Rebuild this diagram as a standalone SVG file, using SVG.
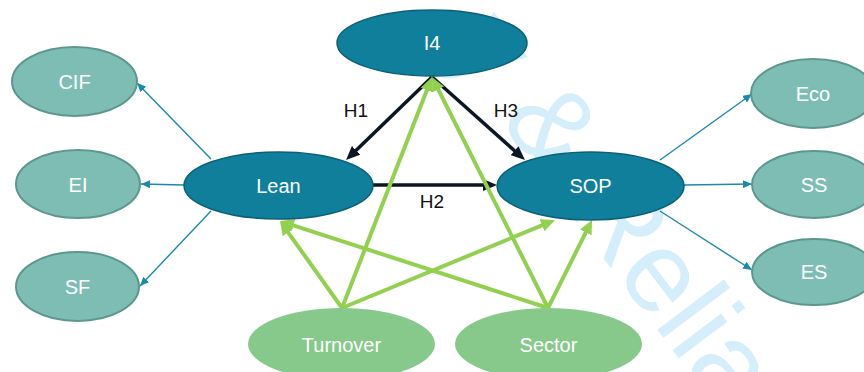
<svg xmlns="http://www.w3.org/2000/svg" width="864" height="372" viewBox="0 0 864 372">
<style>
.wm{font-family:"Liberation Sans",Arial,sans-serif;font-size:115px;fill:#d4eefb}
.t{font-family:"Liberation Sans",Arial,sans-serif;font-size:20px;fill:#ffffff;text-anchor:middle}
.h{font-family:"Liberation Sans",Arial,sans-serif;font-size:19px;fill:#111111;text-anchor:middle}
.dark{fill:#0f7f9c;stroke:#0b5f76;stroke-width:1.5}
.lt{fill:#7ebdb4;stroke:#5b978e;stroke-width:2}
.gr{fill:#86c98b;stroke:none}
.blk{stroke:#0c1624;stroke-width:3.5;fill:none;marker-end:url(#mb)}
.grn{stroke:#92d050;stroke-width:4;fill:none;marker-end:url(#mg)}
.thin{stroke:#1a8aab;stroke-width:1.4;fill:none;marker-end:url(#mt)}
</style>
<defs>
<marker id="mb" markerUnits="userSpaceOnUse" markerWidth="14" markerHeight="12" refX="6" refY="6" orient="auto"><path d="M0,0 L14,6 L0,12 z" fill="#0c1624"/></marker>
<marker id="mg" markerUnits="userSpaceOnUse" markerWidth="14" markerHeight="13" refX="5" refY="6.5" orient="auto"><path d="M0,0 L14,6.5 L0,13 z" fill="#92d050"/></marker>
<marker id="mt" markerUnits="userSpaceOnUse" markerWidth="9" markerHeight="8" refX="9" refY="4" orient="auto"><path d="M0,0 L9,4 L0,8 z" fill="#1a8aab"/></marker>
</defs>
<rect width="864" height="372" fill="#ffffff"/>
<text class="wm" transform="translate(445,48) rotate(53)">y &amp; Relia</text>
<g id="connectors">
<line class="blk" x1="432" y1="77" x2="351.8" y2="154.4"/>
<line class="blk" x1="432" y1="77" x2="519" y2="154.7"/>
<line class="blk" x1="373" y1="185" x2="489" y2="185"/>
<line class="grn" x1="342" y1="308" x2="285.2" y2="228.3"/>
<line class="grn" x1="342" y1="308" x2="428.7" y2="85.4"/>
<line class="grn" x1="342" y1="308" x2="546.7" y2="223.4"/>
<line class="grn" x1="548" y1="308" x2="288.6" y2="223.8"/>
<line class="grn" x1="548" y1="308" x2="436" y2="85"/>
<line class="grn" x1="548" y1="308" x2="588" y2="228"/>
<line class="thin" x1="211" y1="159" x2="137" y2="83"/>
<line class="thin" x1="184" y1="185" x2="141" y2="184"/>
<line class="thin" x1="211" y1="211" x2="140" y2="286"/>
<line class="thin" x1="660" y1="160" x2="752" y2="94"/>
<line class="thin" x1="684" y1="185" x2="752" y2="184"/>
<line class="thin" x1="660" y1="211" x2="752" y2="270"/>
</g>
<g id="labels">
<text class="h" x="356" y="117">H1</text>
<text class="h" x="506" y="117">H3</text>
<text class="h" x="432" y="208">H2</text>
</g>
<g id="I4"><ellipse class="dark" cx="432" cy="43" rx="95" ry="33"/><text class="t" x="432" y="50">I4</text></g>
<g id="Lean"><ellipse class="dark" cx="278.5" cy="185.5" rx="94.5" ry="33.5"/><text class="t" x="278.5" y="193">Lean</text></g>
<g id="SOP"><ellipse class="dark" cx="590.5" cy="186" rx="93.5" ry="34"/><text class="t" x="590.5" y="193">SOP</text></g>
<g id="CIF"><ellipse class="lt" cx="74.5" cy="81.5" rx="62.5" ry="34.5"/><text class="t" x="74.5" y="89">CIF</text></g>
<g id="EI"><ellipse class="lt" cx="78" cy="184" rx="62" ry="34"/><text class="t" x="78" y="192">EI</text></g>
<g id="SF"><ellipse class="lt" cx="77.5" cy="286.5" rx="61.5" ry="34.5"/><text class="t" x="77.5" y="294">SF</text></g>
<g id="Eco"><ellipse class="lt" cx="813" cy="93.5" rx="62" ry="34.5"/><text class="t" x="813" y="101">Eco</text></g>
<g id="SS"><ellipse class="lt" cx="814" cy="184.5" rx="62" ry="33.5"/><text class="t" x="814" y="192">SS</text></g>
<g id="ES"><ellipse class="lt" cx="814" cy="272" rx="62" ry="33"/><text class="t" x="814" y="279">ES</text></g>
<g id="Turnover"><ellipse class="gr" cx="341.5" cy="344" rx="93.5" ry="36"/><text class="t" x="341.5" y="352">Turnover</text></g>
<g id="Sector"><ellipse class="gr" cx="548.5" cy="344" rx="93.5" ry="36"/><text class="t" x="548.5" y="352">Sector</text></g>
</svg>
